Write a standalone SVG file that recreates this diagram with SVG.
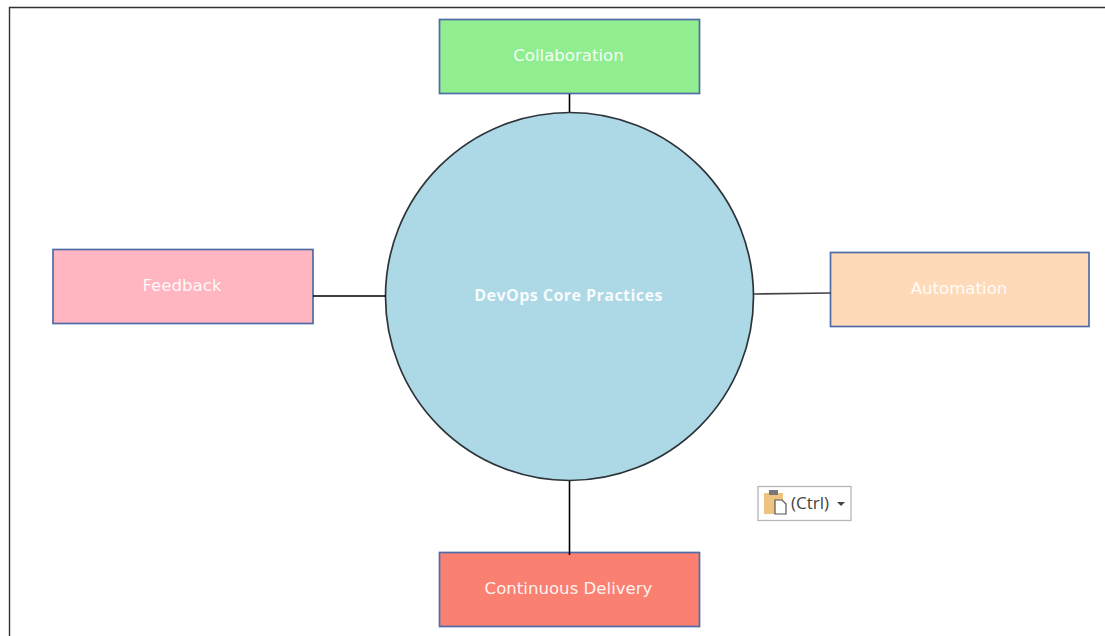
<svg xmlns="http://www.w3.org/2000/svg" width="1105" height="636" viewBox="0 0 1105 636">
<style>
.box{stroke:#4f6ca8;stroke-width:1.7}
.lbl{font-family:"DejaVu Sans","Open Sans",sans-serif;font-size:16.6px;fill:#fff;fill-opacity:.92;text-anchor:middle;dominant-baseline:central}
.bold{font-family:"Open Sans","Noto Sans",sans-serif;font-size:16.2px;font-weight:700;letter-spacing:.36px}
.conn{stroke:#000;stroke-width:1.6;fill:none}
.soft{stroke:#444}
</style>
<rect width="1105" height="636" fill="#fff"/>
<path d="M9.5 636V7.5H1105" fill="none" stroke="#333" stroke-width="1.4"/>
<g id="center"><circle cx="569.5" cy="296.5" r="184" fill="#add8e6" stroke="#2c3438" stroke-width="1.7"/>
<text class="lbl bold" x="568.5" y="295">DevOps Core Practices</text></g>
<g id="collaboration"><rect class="box" x="439.5" y="19.5" width="260" height="74" fill="#90ee90"/><text class="lbl" x="568.5" y="55">Collaboration</text></g>
<g id="feedback"><rect class="box" x="53" y="249.5" width="260" height="74" fill="#ffb6c1"/><text class="lbl" x="182" y="285">Feedback</text></g>
<g id="automation"><rect class="box" x="830.5" y="252.5" width="258.5" height="74" fill="#ffdab9"/><text class="lbl" x="959" y="288.5">Automation</text></g>
<g id="delivery"><rect class="box" x="439.5" y="552.5" width="260" height="74" fill="#fa8072"/><text class="lbl" x="568.5" y="588">Continuous Delivery</text></g>
<g id="connectors">
<line class="conn" x1="569.5" y1="94" x2="569.5" y2="112"/>
<line class="conn" x1="313" y1="296" x2="386" y2="296"/>
<line class="conn soft" x1="754" y1="294" x2="831" y2="293"/>
<line class="conn" x1="569.5" y1="481" x2="569.5" y2="555"/>
</g>
<g id="paste-options">
<rect x="758" y="486.5" width="93" height="34" fill="#fff" stroke="#b5b5b5" stroke-width="1.3"/>
<rect x="764" y="493" width="19" height="21" fill="#eec27f"/>
<rect x="769" y="490" width="9" height="5" fill="#777"/>
<path d="M775 500h7l4 4v10h-11z" fill="#fff" stroke="#555" stroke-width="1.2"/>
<text x="791" y="509" font-family="'Open Sans','Noto Sans',sans-serif" font-size="17" fill="#444">(Ctrl)</text>
<path d="M837 502h8l-4 4z" fill="#444"/>
</g>
</svg>
